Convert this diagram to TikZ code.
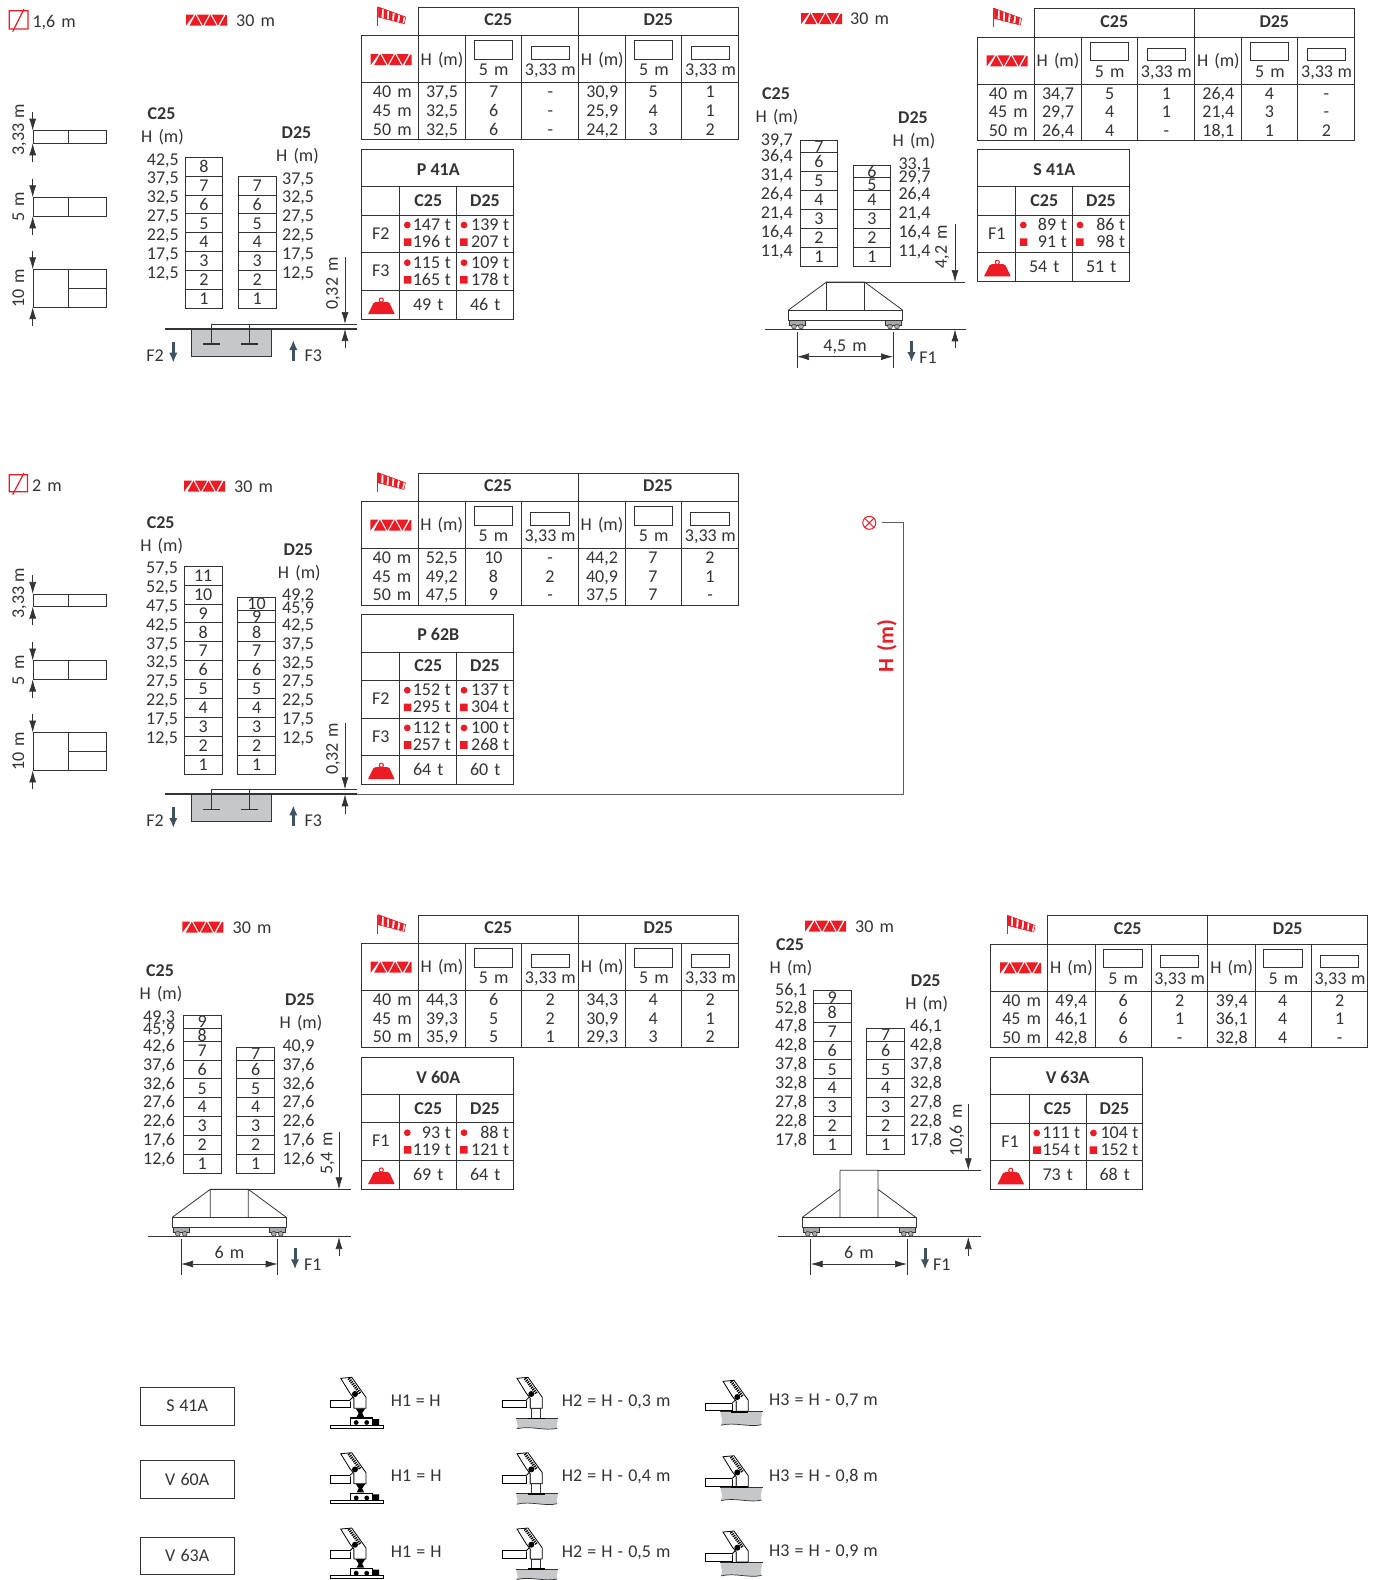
\documentclass[tikz,border=0pt]{standalone}
\usepackage{fontspec}
\setmainfont{Carlito}[WordSpace=1.5,BoldFeatures={WordSpace=1}]
\newfontfamily\plainfont{Carlito}
\newfontfamily\legendfont{Carlito}[WordSpace=1.12]
\usetikzlibrary{arrows.meta}
\definecolor{markred}{HTML}{ED1C24}
\definecolor{inkgrey}{HTML}{333333}
\definecolor{blockgrey}{HTML}{C6C7C9}
\definecolor{wheelgrey}{HTML}{A7A9AC}
\definecolor{forcegrey}{HTML}{3F5261}
\tikzset{
  tabline/.style={draw=inkgrey,line width=.8pt},
  boldline/.style={draw=inkgrey,line width=1.2pt},
  dimarrow/.style={draw=inkgrey,line width=.7pt,-{Latex[length=12pt,width=7pt]}},
  forcearrow/.style={draw=forcegrey,line width=3pt,-{Latex[length=10pt,width=8.5pt]}},
  numlab/.style={anchor=west},
  boldlab/.style={font=\fontsize{18}{18}\selectfont\bfseries},
  modelbox/.style={draw=inkgrey,line width=.8pt,minimum width=94pt,minimum height=37.7pt},
}
% hook height symbol
\newcommand{\jibicon}[2]{%
  \begin{scope}[shift={(#1,#2)}]
    \fill[markred] (0,0)--(8,0)--(0,11)--cycle (3.5,11)--(9.5,0)--(15.5,11)--cycle
      (11,0)--(23,0)--(17,11)--cycle (18.5,11)--(24.5,0)--(30.5,11)--cycle
      (26,0)--(38,0)--(32,11)--cycle (33.7,11)--(41,11)--(41,.5)--(39.5,.5)--cycle;
  \end{scope}}
% wind sock
\newcommand{\sockicon}[2]{%
  \begin{scope}[shift={(#1,#2)}]
    \draw[markred,line width=1.2pt] (0,0)--(0,19);
    \draw[markred,line width=.6pt] (.6,0)--(28,10)--(26.6,16.7)--(.6,10)--cycle;
    \foreach \t in {0,.2,.4,.6,.8}
      \fill[markred] ({.6+27.4*\t},{10*\t})--({.6+27.4*(\t+.13)},{10*(\t+.13)})
        --({.6+26*(\t+.13)},{10+6.7*(\t+.13)})--({.6+26*\t},{10+6.7*\t})--cycle;
  \end{scope}}
% counterweight
\newcommand{\weighticon}[2]{%
  \begin{scope}[shift={(#1,#2)}]
    \fill[markred] (0,12.5)--(5.5,1.5) .. controls (6,.5) and (7,.3) .. (8,.3)
      --(19,.3) .. controls (20,.3) and (21,.5) .. (21.5,1.5)--(26.7,12.5)--cycle;
    \draw[markred,line width=1pt] (13.3,-1.5) circle (2.1);
  \end{scope}}
\newcommand{\windtable}[3]{%
  \begin{scope}[shift={(#1,#2)}]
    \draw[tabline] (57,0) rectangle (377,28.4) (217,0)--(217,28.4);
    \draw[tabline] (0,28.4) rectangle (377,132);
    \draw[boldline] (0,75.4)--(377,75.4);
    \foreach \xv in {57,104.4,160.4,217,264.4,320.4}
      \draw[tabline] (\xv,28.4)--(\xv,132);
    \foreach \xv in {0,160}
      \draw[tabline] ({113+\xv},33.4) rectangle ({151.4+\xv},52)
        ({169.7+\xv},39.4) rectangle ({208+\xv},52);
    \sockicon{16.4}{-.3}
    \jibicon{9.4}{46.7}
    \node[boldlab] (cname) at (137,12.7) {C25};
    \node[boldlab] (dname) at (297,12.7) {D25};
    \foreach \xv/\ov in {80.7/0,241/160.3} {
      \node at (\xv,52) {H (m)};
      \node at ({132.4+\ov},62.7) {5 m};
      \node at ({189+\ov},62.7) {\plainfont 3,33 m};
    }
    \foreach \wc/\hc/\ca/\cb/\hd/\da/\db [count=\i] in {#3} {
      \node (wr\i) at (31,{84.7+(\i-1)*18.7}) {\wc};
      \node at (80.7,{84.7+(\i-1)*18.7}) {\hc};
      \node at (132.4,{84.7+(\i-1)*18.7}) {\ca};
      \node at (189,{84.7+(\i-1)*18.7}) {\cb};
      \node at (241,{84.7+(\i-1)*18.7}) {\hd};
      \node at (292,{84.7+(\i-1)*18.7}) {\da};
      \node at (349,{84.7+(\i-1)*18.7}) {\db};
    }
  \end{scope}}
% #3 title, #4 rows, #5 and #6 weights, #7 height of the F rows
\newcommand{\loadtable}[7]{%
  \begin{scope}[shift={(#1,#2)}]
    \draw[tabline] (0,0) rectangle (152,{94.5+#7});
    \draw[tabline] (0,37.4)--(152,37.4) (0,65.7)--(152,65.7);
    \draw[tabline] (38.4,37.4)--(38.4,{94.5+#7}) (95.4,37.4)--(95.4,{94.5+#7});
    \draw[boldline] (0,{65.7+#7})--(152,{65.7+#7});
    \node[boldlab] (tname) at (77,20.7) {#3};
    \node[boldlab] at (67,51.4) {C25};
    \node[boldlab] at (123.7,51.4) {D25};
    \foreach \fn/\ca/\cb/\da/\db [count=\i] in {#4} {
      \pgfmathsetmacro\yr{65.7+(\i-1)*37.7}
      \ifnum\i>1 \draw[tabline] (0,\yr)--(152,\yr); \fi
      \node at (19.4,\yr+18.5) {\fn};
      \fill[markred] (46,\yr+10) circle (3.4) (99.3,\yr+10) ++(3.4,0) circle (3.4);
      \fill[markred] (42.5,\yr+23.3) rectangle +(7.6,7.6) (98.8,\yr+23.3) rectangle +(7.6,7.6);
      \node[anchor=east] at (89.7,\yr+10) {\plainfont\ca};
      \node[anchor=east] at (89.7,\yr+27) {\plainfont\cb};
      \node[anchor=east] at (148,\yr+10) {\plainfont\da};
      \node[anchor=east] at (148,\yr+27) {\plainfont\db};
    }
    \weighticon{6.7}{{76.8+#7}}
    \node at (67,{80+#7}) {#5};
    \node at (124,{80+#7}) {#6};
  \end{scope}}
\newcommand{\towercol}[3]{%
  \foreach \n in {1,...,#3} {
    \draw[tabline] (#1,{#2-(\n-1)*18.9}) rectangle (#1+37.8,{#2-\n*18.9});
    \node (row\n) at (#1+18.9,{#2-(\n-.5)*18.9}) {\n};
  }}
\newcommand{\toprow}[5]{%
  \draw[tabline] (#1,#2) rectangle (#1+37.8,#3);
  \node at (#1+18.9,#5) {#4};}
\newcommand{\numcol}[3]{%
  \foreach \v [count=\i] in {#3}
    \node[numlab] (nm\i) at (#1,{#2+(\i-1)*18.9}) {\v};}
\newcommand{\towerhead}[3]{%
  \node[boldlab] at (#1,#2) {#3};
  \node at (#1+1,#2+23) {H (m)};}
\newcommand{\mastkey}[1]{%
  \begin{scope}[yshift=-#1pt]
    \draw[tabline] (33,130.7) rectangle (106.5,143.3) (68.3,130.7)--(68.3,143.3);
    \draw[tabline] (33,197.3) rectangle (106.5,216.3) (68.3,197.3)--(68.3,216.3);
    \draw[tabline] (33,269.3) rectangle (106.5,307.2) (68.3,269.3)--(68.3,307.2) (68.3,288.2)--(106.5,288.2);
    \foreach \ya/\yb/\yc/\yd in {112/130.7/162/143.3,178.5/197.3/235/216.3,251/269.3/326/307.2} {
      \draw[dimarrow] (32.7,\ya)--(32.7,\yb);
      \draw[dimarrow] (32.7,\yc)--(32.7,\yd);
    }
    \node[rotate=90] at (18.3,130) {\plainfont 3,33 m};
    \node[rotate=90] at (18.3,207) {5 m};
    \node[rotate=90] at (18.3,288) {10 m};
  \end{scope}}
\newcommand{\pitbase}[1]{%
  \begin{scope}[yshift=-#1pt]
    \fill[blockgrey,draw=inkgrey,line width=.7pt] (191.7,328.7) rectangle (271.7,356);
    \draw[inkgrey,line width=1.6pt] (165,328.7)--(357,328.7);
    \draw[inkgrey,line width=.7pt] (357,324.3)--(211.7,324.3)--(211.7,344) (249.7,324.3)--(249.7,344);
    \draw[inkgrey,line width=1.2pt] (203.3,344)--(220,344) (241.3,344)--(257.7,344);
    \draw[dimarrow] (345,257.3)--(345,324);
    \draw[dimarrow] (345,348.3)--(345,329);
    \node[rotate=90] at (332,283.5) {0,32 m};
    \node at (155,355.7) {F2};
    \node at (313.3,355.7) {F3};
    \draw[forcearrow] (173.3,341.7)--(173.3,362.7);
    \draw[forcearrow] (293.3,360.7)--(293.3,340);
  \end{scope}}
% #1 left end of the platform, #2 top line, #3 right end of the ground
\newcommand{\railbase}[4]{%
  \begin{scope}[shift={(#1,#2)}]
    \draw[tabline,fill=white] (0,28) rectangle (114,38);
    \foreach \xv in {1,97} {
      \fill[wheelgrey,draw=inkgrey,line width=.5pt] (\xv,38) rectangle +(16,5);
      \draw[inkgrey,fill=wheelgrey,line width=.5pt] (\xv+4.5,44.5) circle (2.4) (\xv+11.5,44.5) circle (2.4);
    }
    \draw[inkgrey,line width=1.6pt] (-24,47.3)--(#3,47.3);
    #4
  \end{scope}}
\newcommand{\dimspan}[6]{%
  \draw[tabline] (#1,#2) -- (#1,#2+35.7) (#3,#2) -- (#3,#2+35.7);
  \draw[inkgrey,line width=.7pt,{Latex[length=12pt,width=7pt]}-{Latex[length=12pt,width=7pt]}] (#1,#2+24.7)--(#3,#2+24.7);
  \node at ({(#1+#3)/2},#2+13.4) {#4};
  \draw[forcearrow] (#5,#2+9)--(#5,#2+30);
  \node at (#6,#2+25.7) {F1};}
% upper part of the small crane sketches
\newcommand{\slewtop}[3]{%
  \begin{scope}[shift={(#1,#2)}]
    \draw[black,line width=.8pt,fill=white] (#3,22) rectangle (19.3,29.7);
    \draw[black,line width=.8pt,fill=white] (19.3,22)--(23.3,18)--(23.3,30);
    \draw[black,line width=.8pt,fill=white] (10,.3)--(21,-.7)--(35.3,19.3)--(35.3,30.3)--(23.3,30.3)--(23.3,20.3)--(19.3,15.3)--cycle;
    \draw[black,line width=3pt,dash pattern=on 1.2pt off 1pt] (18,.3)--(29.5,15.5);
    \fill[black] (24.3,16) circle (3);
  \end{scope}}
\newcommand{\railtruck}[2]{%
  \begin{scope}[shift={(#1,#2)}]
    \fill[black] (25,30.5)--(34.5,30.5)--(31.5,35)--(33.5,39)--(26,39)--(28,35)--cycle;
    \draw[black,line width=1.3pt] (20,47)--(20,40)--(42,40)--(42,47);
    \fill[black] (25.5,44.5) circle (2.4) (36,44.5) circle (2.4) (42,41) rectangle (48.5,47);
    \draw[black,line width=.8pt,fill=white] (-.7,47) rectangle (52.7,50);
  \end{scope}}
\newcommand{\groundblock}[4]{%
  \begin{scope}[shift={(#1,#2)}]
    \fill[blockgrey] (0,0)--(40.5,0) .. controls (42.5,3) and (38.5,6) .. (40.5,#4)
      .. controls (28,{#4+3}) and (14,{#4-3}) .. (0,{#4+.5}) .. controls (3,6) and (-2,3) .. (0,0)--cycle;
    \draw[inkgrey,line width=.7pt] (0,{#4+.5}) .. controls (14,{#4-3}) and (28,{#4+3}) .. (40.5,#4);
    \draw[inkgrey,line width=.7pt] (-1,0)--(41.5,0);
    \draw[black,line width=1.6pt] (#3,0)--(#3+17,0);
  \end{scope}}
\begin{document}
\begin{tikzpicture}[x=1pt,y=-1pt,
  every node/.style={inner sep=0pt,text=inkgrey,text height=11.5pt,text depth=0pt,
    font=\fontsize{18}{18}\selectfont}]
\useasboundingbox (0,0) rectangle (1377,1580);

% first row, left
\draw[markred,line width=1.2pt] (9.3,10.7) rectangle (28,29) (12.7,31.7)--(24,9);
\node[numlab] (slope1) at (32.3,21.7) {1,6 m};
\jibicon{186}{14.7}
\node[numlab] (hook1) at (236,20.7) {30 m};
\mastkey{0}
\towerhead{161.5}{113.5}{C25}
\towerhead{296.5}{132.5}{D25}
\numcol{146.7}{159.3}{{42,5},{37,5},{32,5},{27,5},{22,5},{17,5},{12,5}}
\numcol{282}{178.3}{{37,5},{32,5},{27,5},{22,5},{17,5},{12,5}}
\towercol{185}{308.3}{8}
\towercol{238.3}{308.3}{7}
\pitbase{0}
\windtable{361.3}{7.3}{40 m/{37,5}/7/-/{30,9}/5/1,45 m/{32,5}/6/-/{25,9}/4/1,50 m/{32,5}/6/-/{24,2}/3/2}
\loadtable{361.3}{149.3}{P 41A}{F2/147 t/196 t/139 t/207 t,F3/115 t/165 t/109 t/178 t}{49 t}{46 t}{75.4}

% first row, right
\jibicon{801}{13.2}
\node[numlab] (hook2) at (850,18.7) {30 m};
\towerhead{776}{94}{C25}
\towerhead{913}{118}{D25}
\node[numlab] (top2) at (760.7,140) {39,7};
\numcol{760.7}{156.2}{{36,4},{31,4},{26,4},{21,4},{16,4},{11,4}}
\node[numlab] (top3) at (898.3,163.5) {33,1};
\node[numlab] (top4) at (898.3,176.5) {29,7};
\numcol{898.3}{194}{{26,4},{21,4},{16,4},{11,4}}
\towercol{800}{266}{6}
\toprow{800}{140}{152.6}{7}{146.7}
\towercol{853}{266}{4}
\toprow{853}{177.7}{190.4}{5}{185}
\toprow{853}{165.3}{177.7}{6}{171.7}
\draw[inkgrey,line width=.7pt] (826.5,282)--(965,282);
\railbase{788.5}{282}{177.5}{
  \draw[tabline] (0,28)--(38,0)--(76,0)--(114,28) (38,0)--(38,28) (76,0)--(76,28);}
\draw[dimarrow] (955,224)--(955,282);
\draw[dimarrow] (955,348)--(955,329.3);
\node[rotate=90] at (941,247) {4,2 m};
\dimspan{797}{332}{893}{4,5 m}{911.5}{928}
\windtable{977.3}{8.7}{40 m/{34,7}/5/1/{26,4}/4/-,45 m/{29,7}/4/1/{21,4}/3/-,50 m/{26,4}/4/-/{18,1}/1/2}
\loadtable{977.3}{149.3}{S 41A}{F1/89 t/91 t/86 t/98 t}{54 t}{51 t}{37.7}

% second row
\draw[markred,line width=1.2pt] (9.3,474.7) rectangle (27.5,491.7) (12.7,494.5)--(24,473);
\node[numlab] (slope3) at (32,485.7) {2 m};
\jibicon{184}{480.7}
\node[numlab] (hook3) at (234,486.7) {30 m};
\mastkey{463.2}
\towerhead{160.7}{522.3}{C25}
\towerhead{298.3}{550}{D25}
\numcol{146}{567.7}{{57,5},{52,5},{47,5},{42,5},{37,5},{32,5},{27,5},{22,5},{17,5},{12,5}}
\node[numlab] (top5) at (282,595) {49,2};
\node[numlab] (top6) at (282,607.7) {45,9};
\numcol{282}{624.5}{{42,5},{37,5},{32,5},{27,5},{22,5},{17,5},{12,5}}
\towercol{184.3}{774}{11}
\towercol{237.7}{774}{8}
\toprow{237.7}{610.3}{622.8}{9}{616.7}
\toprow{237.7}{597.3}{610.3}{10}{604}
\pitbase{465.3}
\windtable{361}{473}{40 m/{52,5}/10/-/{44,2}/7/2,45 m/{49,2}/8/2/{40,9}/7/1,50 m/{47,5}/9/-/{37,5}/7/-}
\loadtable{361.3}{614.5}{P 62B}{F2/152 t/295 t/137 t/304 t,F3/112 t/257 t/100 t/268 t}{64 t}{60 t}{75.4}
\node[circle,draw=markred,line width=1pt,minimum size=13pt,text height=0pt] (hmark) at (869.3,522.8) {};
\draw[markred,line width=1pt] (hmark.north west)--(hmark.south east) (hmark.north east)--(hmark.south west);
\coordinate (hfoot) at (903.5,794);
\draw[inkgrey!80,line width=1pt] (881.5,522.8)-|(hfoot)--(357,794);
\node[rotate=90,text=markred,font=\fontsize{22}{22}\selectfont\bfseries] (hname) at (887.5,646.5) {H\,\,(m)};

% third row, left
\jibicon{182.3}{921.7}
\node[numlab] (hook4) at (232.5,927.7) {30 m};
\towerhead{160}{970.7}{C25}
\towerhead{300}{1000}{D25}
\node[numlab] (top7) at (143,1016.7) {49,3};
\node[numlab] (top8) at (143,1028.3) {45,9};
\numcol{143}{1045.5}{{42,6},{37,6},{32,6},{27,6},{22,6},{17,6},{12,6}}
\numcol{282.3}{1045.5}{{40,9},{37,6},{32,6},{27,6},{22,6},{17,6},{12,6}}
\towercol{183.3}{1173.3}{7}
\toprow{183.3}{1028.3}{1041}{8}{1035.7}
\toprow{183.3}{1015.7}{1028.3}{9}{1021.7}
\towercol{236.7}{1173.3}{6}
\toprow{236.7}{1047.3}{1060}{7}{1054}
\draw[inkgrey,line width=.7pt] (210.3,1189.3)--(351,1189.3);
\railbase{172.3}{1189.3}{178.7}{
  \draw[tabline] (0,28)--(38,0)--(76,0)--(114,28) (38,0)--(38,28) (76,0)--(76,28);}
\draw[dimarrow] (339,1131.7)--(339,1189.3);
\draw[dimarrow] (339,1256)--(339,1237);
\node[rotate=90] at (326.7,1153.3) {5,4 m};
\dimspan{181}{1239.3}{277.7}{6 m}{295}{312.7}
\windtable{361.3}{915}{40 m/{44,3}/6/2/{34,3}/4/2,45 m/{39,3}/5/2/{30,9}/4/1,50 m/{35,9}/5/1/{29,3}/3/2}
\loadtable{361.3}{1057}{V 60A}{F1/93 t/119 t/88 t/121 t}{69 t}{64 t}{37.7}

% third row, right
\jibicon{805}{920.7}
\node[numlab] (hook5) at (855,926.7) {30 m};
\towerhead{790}{945}{C25}
\towerhead{925.7}{981}{D25}
\node[numlab] (top9) at (775,990) {56,1};
\numcol{775}{1007.3}{{52,8},{47,8},{42,8},{37,8},{32,8},{27,8},{22,8},{17,8}}
\numcol{910}{1026}{{46,1},{42,8},{37,8},{32,8},{27,8},{22,8},{17,8}}
\towercol{813.3}{1154.3}{8}
\toprow{813.3}{990.3}{1003.1}{9}{997.3}
\towercol{866.7}{1154.3}{6}
\toprow{866.7}{1028.3}{1041}{7}{1034.7}
\draw[inkgrey,line width=.7pt] (878,1170.3)--(980.7,1170.3);
\railbase{802.3}{1189.3}{178.4}{
  \draw[tabline] (0,28)--(37.7,0) (75.7,0)--(113.4,28) (37.7,28)--(37.7,-19) (37.7,-19)--(75.7,-19)--(75.7,28);}
\draw[dimarrow] (968.3,1104)--(968.3,1170.3);
\draw[dimarrow] (968.3,1255.7)--(968.3,1237);
\node[rotate=90] at (956,1130.7) {10,6 m};
\dimspan{810.7}{1239.3}{907}{6 m}{925}{941.7}
\windtable{990.7}{915.7}{40 m/{49,4}/6/2/{39,4}/4/2,45 m/{46,1}/6/1/{36,1}/4/1,50 m/{42,8}/6/-/{32,8}/4/-}
\loadtable{990.7}{1057.3}{V 63A}{F1/111 t/154 t/104 t/152 t}{73 t}{68 t}{37.7}

% legend
\foreach \model/\ybox/\dy/\hb/\hc in {S 41A/1406.2/0/{0,3}/{0,7},V 60A/1479.5/75.4/{0,4}/{0,8},V 63A/1555.8/150.7/{0,5}/{0,9}} {
  \node[modelbox] (box\dy) at (187.2,\ybox) {\plainfont\model};
  \slewtop{330.7}{1378+\dy}{0}
  \railtruck{330.7}{1378+\dy}
  \node[numlab] at (390.7,1400.7+\dy) {\plainfont H1 = H};
  \slewtop{507}{1378+\dy}{-4.7}
  \draw[inkgrey,line width=.8pt] (531.7,1408.3+\dy) rectangle (540,1418+\dy);
  \groundblock{516.7}{1418.3+\dy}{11.6}{10}
  \node[numlab] at (561.7,1400.7+\dy) {\legendfont H2 = H - \hb\ m};
  \slewtop{713}{1381+\dy}{-7.3}
  \groundblock{721}{1411.7+\dy}{10}{13}
  \node[numlab] at (769,1400+\dy) {\legendfont H3 = H - \hc\ m};
}
\end{tikzpicture}
\end{document}
